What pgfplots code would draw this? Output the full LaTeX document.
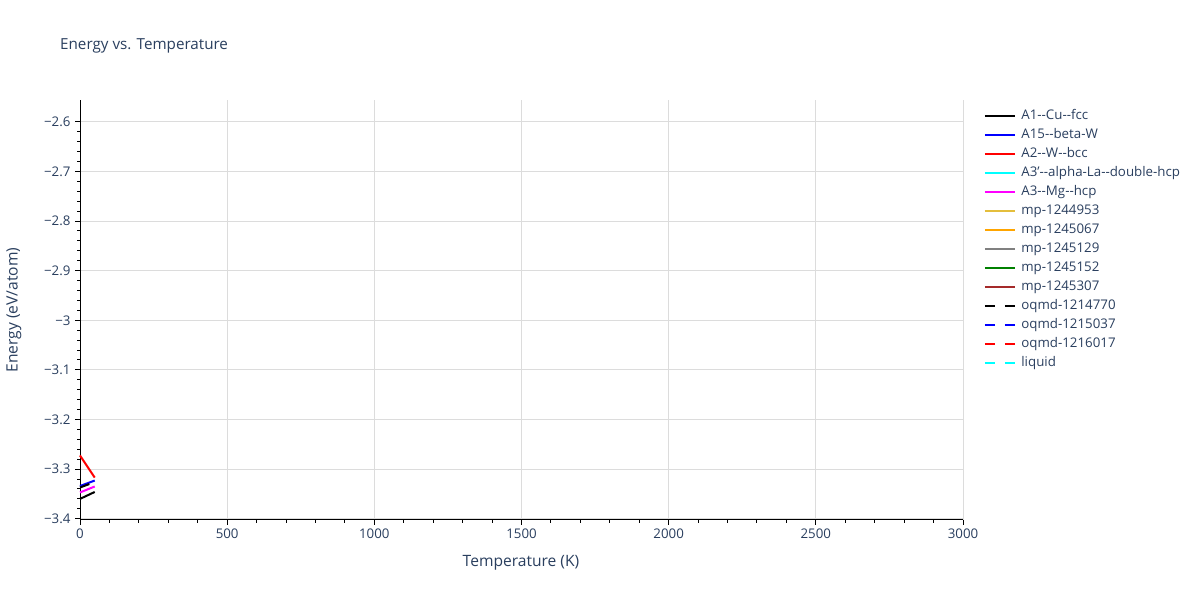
\documentclass[border=0pt]{standalone}
\usepackage{fontspec}
\setmainfont{Open Sans}
\usepackage{pgfplots}
\pgfplotsset{compat=1.18}

\definecolor{txt}{RGB}{42,63,95}
\definecolor{gridc}{RGB}{220,220,220}
\definecolor{cyanc}{RGB}{0,255,255}
\definecolor{magc}{RGB}{255,0,255}
\definecolor{goldc}{RGB}{228,190,60}
\definecolor{orangec}{RGB}{255,165,0}
\definecolor{grayc}{RGB}{128,128,128}
\definecolor{greenc}{RGB}{0,128,0}
\definecolor{brownc}{RGB}{165,42,42}

\begin{document}
\begin{tikzpicture}[x=1bp,y=1bp]
\useasboundingbox[fill=white] (0,0) rectangle (1200,600);
\node[anchor=base west,font=\fontsize{15.2bp}{18bp}\selectfont,text=txt,inner sep=0] at (60,550) {Energy vs. Temperature};
\node[font=\fontsize{15.6bp}{18bp}\selectfont,text=txt,inner sep=0] at (521,37) {Temperature (K)};
\node[rotate=90,font=\fontsize{15.6bp}{18bp}\selectfont,text=txt,inner sep=0] at (14,290) {Energy (eV/atom)};
\begin{axis}[
  at={(80bp,80bp)}, anchor=south west,
  scale only axis, width=883bp, height=420bp,
  xmin=0, xmax=3000, ymin=-3.4025, ymax=-2.556,
  axis x line*=bottom, axis y line*=left,
  axis line style={black, line width=1bp},
  xtick={0,500,...,3000},
  minor x tick num=4,
  ytick={-3.4,-3.3,-3.2,-3.1,-3,-2.9,-2.8,-2.7,-2.6},
  yticklabels={−3.4,−3.3,−3.2,−3.1,−3,−2.9,−2.8,−2.7,−2.6},
  minor y tick num=4,
  tick align=outside,
  major tick length=5bp, minor tick length=3bp,
  tick style={black, line width=1bp},
  xmajorgrids, ymajorgrids,
  major grid style={gridc, line width=1bp},
  /pgf/number format/assume math mode=true,
  /pgf/number format/1000 sep={},
  ticklabel style={font=\fontsize{13.3bp}{15bp}\selectfont, text=txt},
  yticklabel style={xshift=-1bp},
  clip=false,
  legend cell align=left,
  legend image code/.code={\draw[#1] (0bp,0bp) -- (30bp,0bp); \path (34bp,0bp);},
  legend style={
    at={(1.02,0.985)}, anchor=north west,
    draw=none, fill=none,
    font=\fontsize{13.3bp}{15bp}\selectfont, text=txt,
    row sep=3bp,
    nodes={text height=10bp, text depth=3bp, inner sep=1.5bp},
  },
]
% A1--Cu--fcc
\addplot[black, line width=2bp] coordinates {(0,-3.360) (50,-3.346)};
% A15--beta-W
\addplot[blue, line width=2bp] coordinates {(0,-3.334) (50,-3.323)};
% A2--W--bcc
\addplot[red, line width=2bp] coordinates {(0,-3.2725) (50,-3.317)};
\addlegendimage{cyanc, line width=2bp}
% A3--Mg--hcp
\addplot[magc, line width=2bp] coordinates {(0,-3.347) (50,-3.335)};
\addlegendimage{goldc, line width=2bp}
\addlegendimage{orangec, line width=2bp}
\addlegendimage{grayc, line width=2bp}
\addlegendimage{greenc, line width=2bp}
\addlegendimage{brownc, line width=2bp}
% oqmd-1214770
\addplot[black, line width=2bp, dash pattern=on 10bp off 10bp] coordinates {(0,-3.337) (50,-3.326)};
\addlegendimage{blue, line width=2bp, dash pattern=on 10bp off 10bp}
\addlegendimage{red, line width=2bp, dash pattern=on 10bp off 10bp}
\addlegendimage{cyanc, line width=2bp, dash pattern=on 10bp off 10bp}
\legend{A1{-}{-}Cu{-}{-}fcc, A15{-}{-}beta-W, A2{-}{-}W{-}{-}bcc, A3'{-}{-}alpha-La{-}{-}double-hcp, A3{-}{-}Mg{-}{-}hcp, mp-1244953, mp-1245067, mp-1245129, mp-1245152, mp-1245307, oqmd-1214770, oqmd-1215037, oqmd-1216017, liquid}
\end{axis}
\end{tikzpicture}
\end{document}
